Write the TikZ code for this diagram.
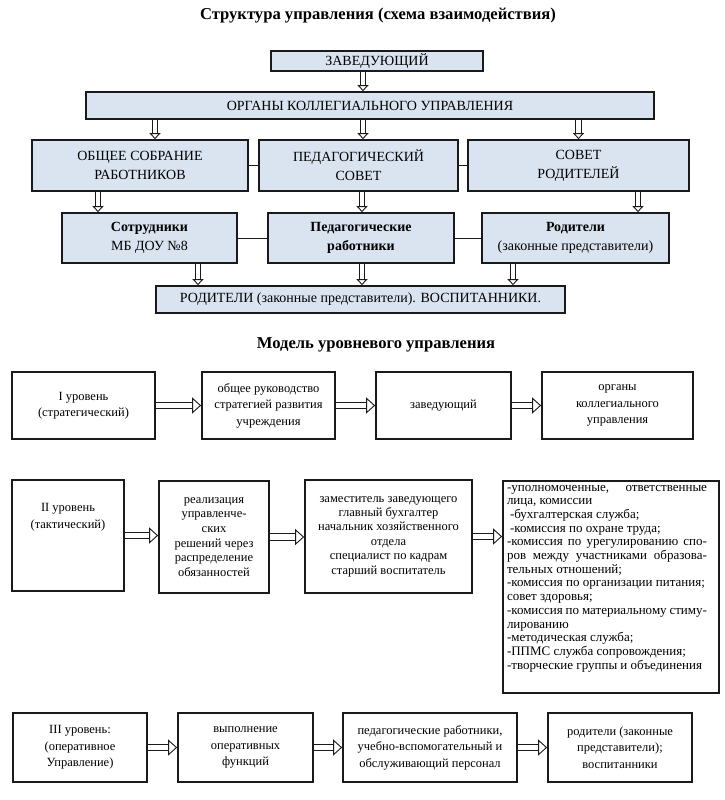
\documentclass[tikz,border=0pt]{standalone}
\usepackage{fontspec}
\setmainfont{Liberation Serif}
\usepackage{tikz}
\usetikzlibrary{arrows.meta,positioning,calc}
\definecolor{stInk}{HTML}{1A1A1A}
\definecolor{stBlue}{HTML}{DAE4F1}
\tikzset{
  % Blue box (structure scheme)
  ubox/.style={rectangle,draw=stInk,line width=1.7pt,fill=stBlue,
    align=center,inner sep=0pt,font=\fontsize{14}{19}\selectfont},
  % White box (level model)
  lbox/.style={rectangle,draw=stInk,line width=1.7pt,fill=white,
    align=center,inner sep=0pt,font=\fontsize{12.5}{16.5}\selectfont},
  % Link line between boxes of one row
  lnk/.style={stInk,line width=1pt},
  % Hollow arrow down
  varr/.style={draw=stInk,double=white,double distance=4.5pt,line width=0.9pt,
    -{Triangle[open,length=6pt,width=11pt,line width=0.9pt]}},
  % Hollow arrow right
  harr/.style={draw=stInk,double=white,double distance=5.5pt,line width=0.9pt,
    -{Triangle[open,length=9pt,width=16pt,line width=0.9pt]}},
  % Headings
  ttl/.style={font=\fontsize{16.6}{19}\selectfont\bfseries},
}

\begin{document}
\begin{tikzpicture}[x=1pt,y=-1pt]
  \useasboundingbox (0,0) rectangle (725,800);

  % Structure scheme
  \node[ttl] (t1) at (378,16) {Структура управления (схема взаимодействия)};
  \node[ubox,minimum width=212pt,minimum height=20pt] (zav) at (377,61) {ЗАВЕДУЮЩИЙ};
  \node[ubox,minimum width=568pt,minimum height=27pt] (org) at (370,105.5)
    {ОРГАНЫ КОЛЛЕГИАЛЬНОГО УПРАВЛЕНИЯ};

  \node[ubox,minimum width=216pt,minimum height=51pt] (sob) at (140,165.5)
    {ОБЩЕЕ СОБРАНИЕ\\РАБОТНИКОВ};
  \node[ubox,minimum width=199pt,minimum height=51pt] (ps) at (358.5,165.5)
    {ПЕДАГОГИЧЕСКИЙ\\СОВЕТ};
  \node[ubox,minimum width=221pt,minimum height=51pt] (sr) at (578.5,165.5)
    {СОВЕТ\\РОДИТЕЛЕЙ};

  \node[ubox,minimum width=175pt,minimum height=50pt] (sotr) at (149.5,238)
    {\textbf{Сотрудники}\\МБ ДОУ №8};
  \node[ubox,minimum width=186pt,minimum height=50pt] (pr) at (361,238)
    {\textbf{Педагогические}\\\textbf{работники}};
  \node[ubox,minimum width=187pt,minimum height=50pt] (rod) at (575.5,238)
    {\textbf{Родители}\\(законные представители)};

  \node[ubox,minimum width=409pt,minimum height=27pt] (vos) at (360.5,299.5)
    {РОДИТЕЛИ (законные представители). ВОСПИТАННИКИ.};

  \draw[lnk] (sob) -- (ps);
  \draw[lnk] (ps) -- (sr);
  \draw[lnk] (sotr) -- (pr);
  \draw[lnk] (pr) -- (rod);

  \draw[varr] ([xshift=-14pt]zav.south) -- ([xshift=-14pt]zav.south |- org.north);
  \draw[varr] ([xshift=15pt]sob.north |- org.south) -- ([xshift=15pt]sob.north);
  \draw[varr] ([xshift=4.5pt]ps.north |- org.south) -- ([xshift=4.5pt]ps.north);
  \draw[varr] (sr.north |- org.south) -- (sr.north);
  \draw[varr] ([xshift=-42pt]sob.south) -- ([xshift=-42pt]sob.south |- sotr.north);
  \draw[varr] ([xshift=3.5pt]ps.south) -- ([xshift=3.5pt]ps.south |- pr.north);
  \draw[varr] ([xshift=59.5pt]sr.south) -- ([xshift=59.5pt]sr.south |- rod.north);
  \draw[varr] ([xshift=48.5pt]sotr.south) -- ([xshift=48.5pt]sotr.south |- vos.north);
  \draw[varr] ([xshift=1pt]pr.south) -- ([xshift=1pt]pr.south |- vos.north);
  \draw[varr] ([xshift=-62.5pt]rod.south) -- ([xshift=-62.5pt]rod.south |- vos.north);

  % Level model
  \node[ttl] (t2) at (376,345) {Модель уровневого управления};

  % Level I
  \node[lbox,minimum width=143pt,minimum height=67pt] (l1a) at (83.5,405.5)
    {I уровень\\(стратегический)};
  \node[lbox,minimum width=133pt,minimum height=67pt] (l1b) at (268.5,405.5)
    {общее руководство\\стратегией развития\\учреждения};
  \node[lbox,minimum width=135pt,minimum height=67pt] (l1c) at (443.5,405.5)
    {заведующий};
  \node[lbox,minimum width=151pt,minimum height=67pt] (l1d) at (617.5,405.5)
    {органы\\коллегиального\\управления};
  \draw[harr] (l1a.east) -- (l1a.east -| l1b.west);
  \draw[harr] (l1b.east) -- (l1b.east -| l1c.west);
  \draw[harr] (l1c.east) -- (l1c.east -| l1d.west);

  % Level II
  \node[lbox,minimum width=112pt,minimum height=111pt] (l2a) at (68,535.5)
    {\parbox[c][64pt][t]{100pt}{\centering II уровень\\(тактический)}};
  \node[lbox,minimum width=110pt,minimum height=112pt,
    font=\fontsize{12.5}{14.7}\selectfont] (l2b) at (214,537)
    {реализация\\управленче-\\ских\\решений через\\распределение\\обязанностей};
  \node[lbox,minimum width=167pt,minimum height=113pt,
    font=\fontsize{12.5}{14.4}\selectfont] (l2c) at (388.5,536.5)
    {заместитель заведующего\\главный бухгалтер\\начальник хозяйственного\\отдела\\специалист по кадрам\\старший воспитатель};
  \node[lbox,minimum width=216pt,minimum height=212pt,
    font=\fontsize{13}{13.7}\selectfont] (l2d) at (611,587)
    {\parbox[c][212pt][t]{200pt}{%
      \rule{0pt}{10pt}\makebox[\linewidth][s]{-уполномоченные, ответственные}\\
      лица, комиссии\\
      \hspace*{3pt}-бухгалтерская служба;\\
      \hspace*{3pt}-комиссия по охране труда;\\
      \makebox[\linewidth][s]{-комиссия по урегулированию спо-}\\
      \makebox[\linewidth][s]{ров между участниками образова-}\\
      тельных отношений;\\
      -комиссия по организации питания;\\
      совет здоровья;\\
      \makebox[\linewidth][s]{-комиссия по материальному стиму-}\\
      лированию\\
      -методическая служба;\\
      -ППМС служба сопровождения;\\
      -творческие группы и объединения}\hspace*{8pt}};
  \draw[harr] (l2a.east) -- (l2a.east -| l2b.west);
  \draw[harr] (l2b.east) -- (l2b.east -| l2c.west);
  \draw[harr] (l2c.east) -- (l2c.east -| l2d.west);

  % Level III
  \node[lbox,minimum width=134pt,minimum height=69pt] (l3a) at (80,747.5)
    {III уровень:\\(оперативное\\Управление)};
  \node[lbox,minimum width=135pt,minimum height=69pt] (l3b) at (245.5,747.5)
    {выполнение\\оперативных\\функций};
  \node[lbox,minimum width=174pt,minimum height=69pt] (l3c) at (430,747.5)
    {педагогические работники,\\учебно-вспомогательный и\\обслуживающий персонал};
  \node[lbox,minimum width=144pt,minimum height=69pt] (l3d) at (620,747.5)
    {родители (законные\\представители);\\воспитанники};
  \draw[harr] (l3a.east) -- (l3a.east -| l3b.west);
  \draw[harr] (l3b.east) -- (l3b.east -| l3c.west);
  \draw[harr] (l3c.east) -- (l3c.east -| l3d.west);
\end{tikzpicture}
\end{document}
